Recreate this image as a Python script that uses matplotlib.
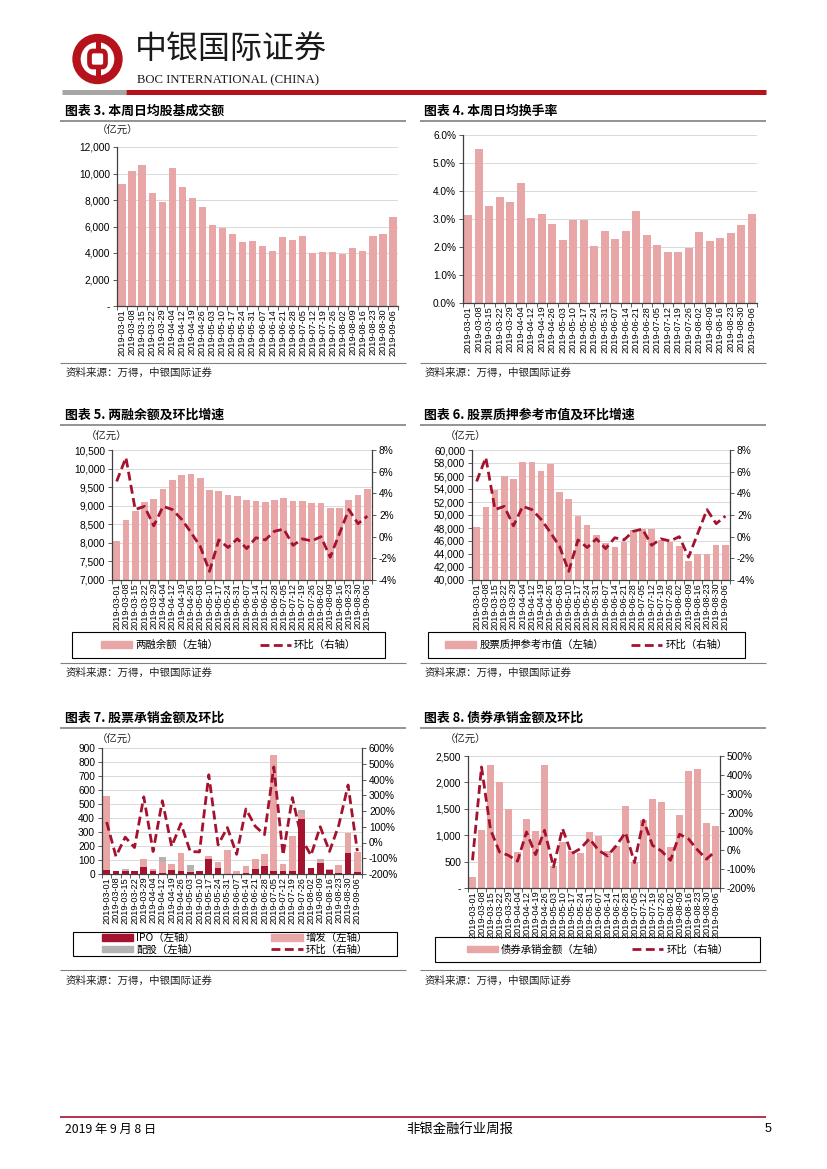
import numpy as np
import matplotlib
matplotlib.use('Agg')
import matplotlib.pyplot as plt
from matplotlib.patches import Rectangle, FancyBboxPatch, Ellipse
from matplotlib.lines import Line2D
import matplotlib.ticker as mticker

# ---------------- data ----------------
dates = ['2019-03-01', '2019-03-08', '2019-03-15', '2019-03-22', '2019-03-29', '2019-04-04',
         '2019-04-12', '2019-04-19', '2019-04-26', '2019-05-03', '2019-05-10', '2019-05-17',
         '2019-05-24', '2019-05-31', '2019-06-07', '2019-06-14', '2019-06-21', '2019-06-28',
         '2019-07-05', '2019-07-12', '2019-07-19', '2019-07-26', '2019-08-02', '2019-08-09',
         '2019-08-16', '2019-08-23', '2019-08-30', '2019-09-06']

turnover_amt = [9200, 10200, 10650, 8500, 7850, 10450, 8950, 8150, 7450, 6100, 5900, 5400, 4850, 4900,
                4550, 4150, 5200, 4950, 5300, 4000, 4050, 4100, 3900, 4400, 4150, 5300, 5450, 6700]

turnover_rate = [3.15, 5.5, 3.45, 3.8, 3.62, 4.27, 3.02, 3.18, 2.83, 2.25, 2.95, 2.95, 2.02, 2.58,
                 2.3, 2.58, 3.3, 2.42, 2.07, 1.83, 1.82, 1.98, 2.53, 2.2, 2.32, 2.5, 2.8, 3.18]

margin_bal = [8050, 8620, 8850, 9100, 9190, 9450, 9690, 9840, 9850, 9740, 9420, 9390, 9280, 9260,
              9160, 9140, 9100, 9160, 9200, 9140, 9120, 9080, 9080, 8930, 8930, 9160, 9280, 9450]
margin_chg = [5.1, 7.3, 2.5, 2.8, 1.0, 2.8, 2.5, 1.6, 0.4, -0.9, -3.2, -0.3, -1.0, -0.2,
              -1.1, -0.1, -0.3, 0.5, 0.7, -0.8, -0.2, -0.4, 0.0, -1.9, 0.3, 2.5, 1.2, 1.9]

pledge_val = [48200, 51300, 53900, 56000, 55500, 58100, 58100, 56700, 57900, 53600, 52400, 49900, 48500, 46900,
              45700, 45100, 45900, 47700, 47800, 47900, 46200, 45800, 45200, 42900, 44000, 44000, 45400, 45400]
pledge_chg = [5.1, 7.3, 2.5, 2.8, 1.0, 2.8, 2.5, 1.6, 0.4, -0.9, -3.2, -0.3, -1.0, -0.2,
              -1.1, -0.1, -0.3, 0.5, 0.7, -0.8, -0.2, -0.4, 0.0, -1.9, 0.3, 2.5, 1.2, 1.9]

ipo = [30, 20, 18, 20, 50, 25, 10, 30, 25, 15, 18, 105, 40, 3, 0, 5, 35, 55, 25, 20, 20, 390, 45, 80, 30, 5, 150, 12]
seo = [530, 5, 8, 2, 55, 10, 73, 40, 125, 5, 2, 25, 45, 165, 22, 55, 75, 90, 825, 50, 250, 45, 0, 15, 5, 60, 140, 148]
rights = [0, 0, 12, 0, 0, 0, 37, 0, 0, 42, 0, 0, 0, 0, 0, 0, 0, 0, 0, 0, 0, 20, 0, 10, 0, 0, 0, 0]
equity_chg = [130, -88, 34, -32, 290, -57, 265, -25, 120, -57, -60, 430, -15, 95, -75, 213, 103, 50, 480, -80,
              285, 25, -82, 100, -57, 110, 365, -55]

bond_amt = [210, 1105, 2335, 2010, 1500, 680, 1300, 1080, 2330, 420, 880, 700, 660, 1065, 990, 700, 800, 1560,
            500, 1290, 1690, 1620, 770, 1390, 2220, 2250, 1230, 1180]
bond_chg = [-53, 442, 110, -9, -27, -58, 97, -23, 106, -88, 115, -18, 9, 62, 0, -30, 26, 94, -65, 160, 26, -4,
            -53, 85, 60, 2, -47, -4]

# ---------------- style ----------------
W, H = 827, 1169
PINK = '#E8A6A6'
DARK = '#A3122E'
GRAY = '#B3B3B3'
RED = '#B5121B'
AXC = '#404040'
NUMF = ['Liberation Sans Narrow', 'Liberation Sans', 'Noto Sans CJK SC', 'DejaVu Sans']
CJK = ['Noto Sans CJK SC', 'DejaVu Sans']
plt.rcParams['font.family'] = NUMF
plt.rcParams['axes.unicode_minus'] = False

fig = plt.figure(figsize=(W / 100, H / 100), dpi=100)
fig.patch.set_facecolor('white')


def fx(x):
    return x / W


def fy(y):
    return 1 - y / H


def axes_px(l, t, r, b):
    return fig.add_axes([l / W, 1 - b / H, (r - l) / W, (b - t) / H])


def hline(x0, x1, y, color, lw):
    fig.add_artist(Line2D([fx(x0), fx(x1)], [fy(y), fy(y)], color=color, lw=lw, transform=fig.transFigure,
                          solid_capstyle='butt'))


def base_axes(ax):
    n = len(dates)
    ax.set_xlim(-0.5, n - 0.5)
    ax.set_xticks(range(n))
    ax.set_xticklabels(dates, rotation=90, fontsize=6.6)
    ax.tick_params(axis='x', which='major', length=0, pad=2)
    ax.set_xticks(np.arange(-0.5, n, 1), minor=True)
    ax.tick_params(axis='x', which='minor', length=3, color=AXC, width=0.6)
    ax.tick_params(axis='y', length=3, color=AXC, width=0.6, labelsize=7.3, pad=2)
    for s in ['top', 'right']:
        ax.spines[s].set_visible(False)
    for s in ['left', 'bottom']:
        ax.spines[s].set_color(AXC)
        ax.spines[s].set_linewidth(0.9)
    ax.grid(axis='y', color='#D9D9D9', lw=0.7)
    ax.set_axisbelow(True)
    ax.set_facecolor('none')


def right_axis(ax, lo, hi, step):
    ax2 = ax.twinx()
    ax2.set_ylim(lo, hi)
    ax2.set_yticks(np.arange(lo, hi + 0.001, step))
    ax2.yaxis.set_major_formatter(mticker.FuncFormatter(lambda v, p: '%d%%' % round(v)))
    ax2.tick_params(axis='y', length=3, color=AXC, width=0.6, labelsize=7.3, pad=2)
    for s in ['top', 'left', 'bottom']:
        ax2.spines[s].set_visible(False)
    ax2.spines['right'].set_color(AXC)
    ax2.spines['right'].set_linewidth(0.9)
    return ax2


DASH = (0, (3.2, 1.6))


def dash_line(ax2, vals):
    ax2.plot(range(len(vals)), vals, color=DARK, lw=2.0, ls=DASH, solid_capstyle='butt')


def comma_dash(v, p):
    return '-' if abs(v) < 1e-9 else '{:,.0f}'.format(v)


def ylabel_unit(x, y):
    fig.text(fx(x), fy(y), '（亿元）', fontsize=7.5, family=CJK, ha='left', va='center', color='#222222')


def title(x, y, s):
    fig.text(fx(x), fy(y), s, fontsize=9.3, family=CJK, weight='bold', ha='left', va='center')


def source(x, y):
    fig.text(fx(x), fy(y), '资料来源：万得，中银国际证券', fontsize=7.6, family=CJK, ha='left', va='center',
             style='italic', color='#222222')


def legend_box(l, t, r, b, handles, labels, ncol, colsp):
    fig.add_artist(Rectangle((fx(l), fy(b)), fx(r) - fx(l), fy(t) - fy(b), transform=fig.transFigure,
                             fill=False, edgecolor='black', lw=0.8))
    fig.legend(handles, labels, loc='center', bbox_to_anchor=((fx(l) + fx(r)) / 2, (fy(t) + fy(b)) / 2),
               bbox_transform=fig.transFigure, ncol=ncol, frameon=False, prop={'family': CJK, 'size': 7.5},
               handlelength=3.0, handleheight=0.6, handletextpad=0.3, columnspacing=colsp,
               labelspacing=0.1, borderpad=0)


# ---------------- header ----------------
cx, cy = 97.5, 59
fig.add_artist(Ellipse((fx(cx), fy(cy)), 42 / W, 42 / H, transform=fig.transFigure, facecolor='white',
                       edgecolor=RED, lw=6.0))
fig.add_artist(FancyBboxPatch((fx(cx - 8), fy(cy + 8)), 16 / W, 16 / H,
                              boxstyle='round,pad=0,rounding_size=0.004',
                              transform=fig.transFigure, facecolor='none', edgecolor=RED, lw=3.4))
fig.add_artist(Line2D([fx(cx), fx(cx)], [fy(cy - 22), fy(cy - 8)], color=RED, lw=3.6,
                      transform=fig.transFigure, solid_capstyle='butt'))
fig.add_artist(Line2D([fx(cx), fx(cx)], [fy(cy + 8), fy(cy + 22)], color=RED, lw=3.6,
                      transform=fig.transFigure, solid_capstyle='butt'))
fig.text(fx(135), fy(49), '中银国际证券', fontsize=23, family=CJK, ha='left', va='center', color='#1a1a1a')
fig.text(fx(137), fy(80), 'BOC INTERNATIONAL (CHINA)', fontsize=9.2, family=['Liberation Serif', 'DejaVu Serif'],
         ha='left', va='center', color='#1a1a1a')
hline(62, 126, 91.5, '#A6A6A6', 3.6)
hline(126, 766, 91.5, RED, 3.6)

# ---------------- titles / frames ----------------
title(65, 111, '图表 3. 本周日均股基成交额')
title(424, 111, '图表 4. 本周日均换手率')
title(65, 415, '图表 5. 两融余额及环比增速')
title(424, 415, '图表 6. 股票质押参考市值及环比增速')
title(65, 718, '图表 7. 股票承销金额及环比')
title(424, 718, '图表 8. 债券承销金额及环比')
for y in (121, 425, 728):
    hline(60, 406, y, '#808080', 1.2)
    hline(420, 766, y, '#808080', 1.2)
for y, ys in ((363, 373), (663, 673), (970, 981)):
    hline(60, 406, y, '#808080', 0.8)
    hline(420, 766, y, '#808080', 0.8)
    source(66, ys)
    source(425, ys)

x = np.arange(len(dates))

# ---------------- chart 3 ----------------
ax = axes_px(117, 147, 398, 306)
base_axes(ax)
ax.bar(x, turnover_amt, width=0.72, color=PINK)
ax.set_ylim(0, 12000)
ax.set_yticks(np.arange(0, 12001, 2000))
ax.yaxis.set_major_formatter(mticker.FuncFormatter(comma_dash))
ylabel_unit(97, 131)

# ---------------- chart 4 ----------------
ax = axes_px(463, 135, 757, 303)
base_axes(ax)
ax.bar(x, turnover_rate, width=0.72, color=PINK)
ax.set_ylim(0, 6)
ax.set_yticks(np.arange(0, 6.01, 1))
ax.yaxis.set_major_formatter(mticker.FuncFormatter(lambda v, p: '%.1f%%' % v))

# ---------------- chart 5 ----------------
ax = axes_px(112, 450, 372, 580)
base_axes(ax)
ax.bar(x, margin_bal, width=0.72, color=PINK)
ax.set_ylim(7000, 10500)
ax.set_yticks(np.arange(7000, 10501, 500))
ax.yaxis.set_major_formatter(mticker.FuncFormatter(comma_dash))
ax2 = right_axis(ax, -4, 8, 2)
dash_line(ax2, margin_chg)
ylabel_unit(86, 437)
legend_box(72, 632, 385, 658,
           [Rectangle((0, 0), 1, 1, color=PINK), Line2D([], [], color=DARK, lw=2, ls=DASH)],
           ['两融余额（左轴）', '环比（右轴）'], 2, 4.0)

# ---------------- chart 6 ----------------
ax = axes_px(472, 450, 730, 580)
base_axes(ax)
ax.bar(x, pledge_val, width=0.72, color=PINK)
ax.set_ylim(40000, 60000)
ax.set_yticks(np.arange(40000, 60001, 2000))
ax.yaxis.set_major_formatter(mticker.FuncFormatter(comma_dash))
ax2 = right_axis(ax, -4, 8, 2)
dash_line(ax2, pledge_chg)
ylabel_unit(445, 437)
legend_box(428, 632, 745, 658,
           [Rectangle((0, 0), 1, 1, color=PINK), Line2D([], [], color=DARK, lw=2, ls=DASH)],
           ['股票质押参考市值（左轴）', '环比（右轴）'], 2, 2.6)

# ---------------- chart 7 ----------------
ax = axes_px(102, 748, 362, 874)
base_axes(ax)
ipo_a = np.array(ipo)
seo_a = np.array(seo)
rights_a = np.array(rights)
ax.bar(x, ipo_a, width=0.72, color=DARK)
ax.bar(x, seo_a, width=0.72, bottom=ipo_a, color=PINK)
ax.bar(x, rights_a, width=0.72, bottom=ipo_a + seo_a, color=GRAY)
ax.set_ylim(0, 900)
ax.set_yticks(np.arange(0, 901, 100))
ax2 = right_axis(ax, -200, 600, 100)
dash_line(ax2, equity_chg)
ylabel_unit(97, 740)
legend_box(73, 932, 397, 956,
           [Rectangle((0, 0), 1, 1, color=DARK), Rectangle((0, 0), 1, 1, color=GRAY),
            Rectangle((0, 0), 1, 1, color=PINK), Line2D([], [], color=DARK, lw=2, ls=DASH)],
           ['IPO（左轴）', '配股（左轴）', '增发（左轴）', '环比（右轴）'], 2, 7.0)

# ---------------- chart 8 ----------------
ax = axes_px(468, 756, 720, 888)
base_axes(ax)
ax.bar(x, bond_amt, width=0.72, color=PINK)
ax.set_ylim(0, 2500)
ax.set_yticks(np.arange(0, 2501, 500))
ax.yaxis.set_major_formatter(mticker.FuncFormatter(comma_dash))
ax2 = right_axis(ax, -200, 500, 100)
dash_line(ax2, bond_chg)
ylabel_unit(445, 740)
legend_box(435, 937, 760, 962,
           [Rectangle((0, 0), 1, 1, color=PINK), Line2D([], [], color=DARK, lw=2, ls=DASH)],
           ['债券承销金额（左轴）', '环比（右轴）'], 2, 2.6)

# ---------------- footer ----------------
hline(60, 766, 1117, DARK, 1.2)
fig.text(fx(65), fy(1129), '2019 年 9 月 8 日', fontsize=8.8, family=CJK, ha='left', va='center')
fig.text(fx(460), fy(1129), '非银金融行业周报', fontsize=9.6, family=CJK, ha='center', va='center')
fig.text(fx(771), fy(1129), '5', fontsize=9, family=NUMF, ha='right', va='center')

fig.savefig('out.png', dpi=100, facecolor='white')
